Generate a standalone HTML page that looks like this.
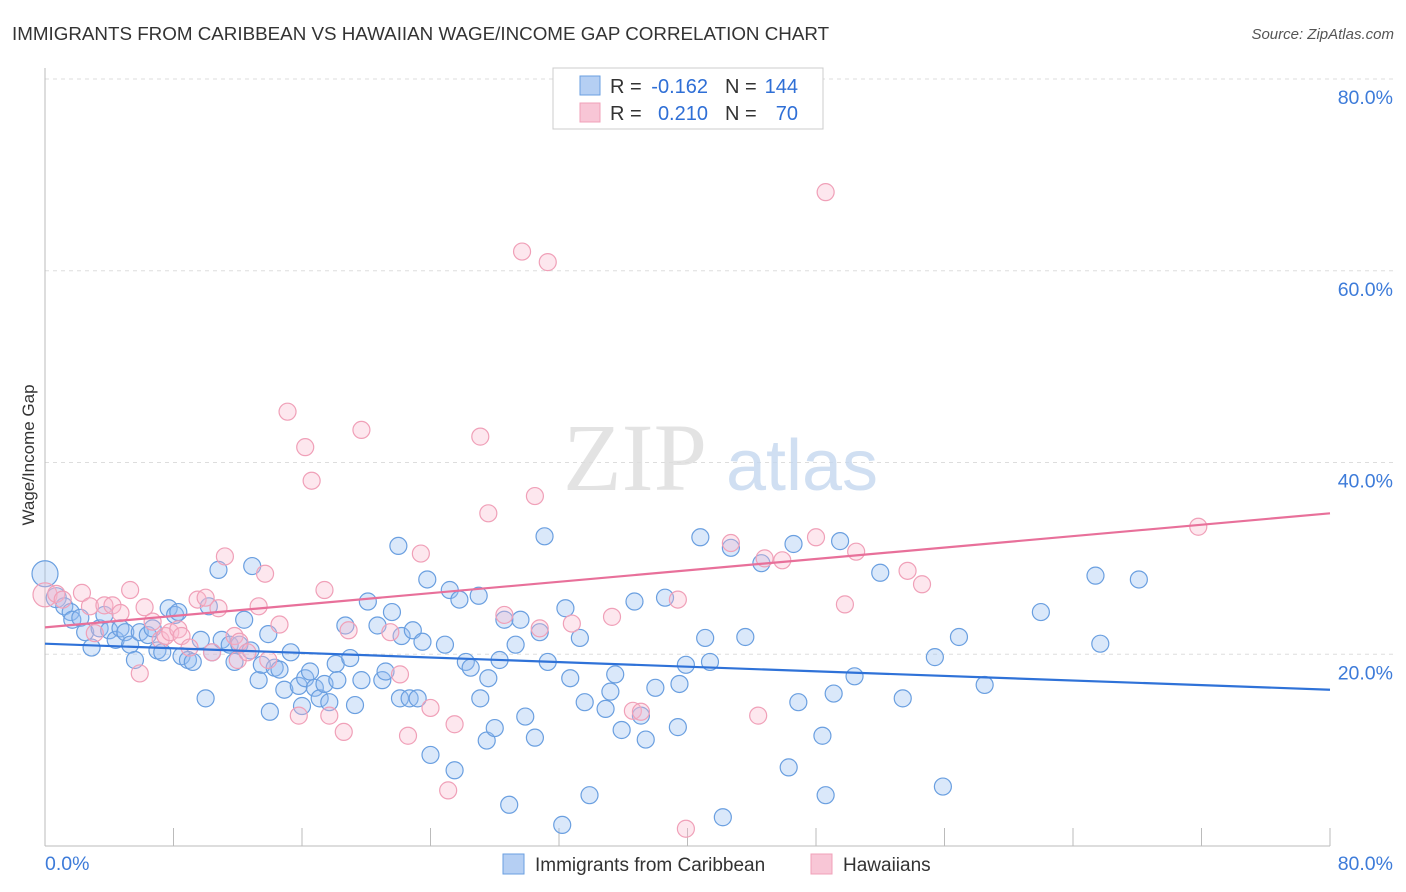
<!DOCTYPE html>
<html><head><meta charset="utf-8"><style>
body{margin:0;background:#fff;font-family:"Liberation Sans",sans-serif;}
svg{display:block}
</style></head><body>
<svg width="1406" height="892" xmlns="http://www.w3.org/2000/svg">
<text x="12" y="40" font-size="18.8" fill="#333">IMMIGRANTS FROM CARIBBEAN VS HAWAIIAN WAGE/INCOME GAP CORRELATION CHART</text>
<text x="1394" y="39" font-size="15" fill="#555" font-style="italic" text-anchor="end">Source: ZipAtlas.com</text>
<g id="grid"></g>
<g><text x="635" y="490" font-size="96" font-family="Liberation Serif,serif" fill="#ddd" text-anchor="middle" opacity="0.8">ZIP</text><text x="802" y="490" font-size="72" fill="#c5d8ef" text-anchor="middle" opacity="0.8">atlas</text></g>
<g id="pts"></g>
<g id="trend"></g>
<text transform="translate(34,455) rotate(-90)" font-size="17" fill="#333" text-anchor="middle">Wage/Income Gap</text>
<g font-size="20">
<rect x="553" y="68" width="270" height="61" fill="#fff" stroke="#ccc"/>
<rect x="580" y="76" width="20" height="19" fill="#b5cff3" stroke="#6a9fe0"/>
<rect x="580" y="103" width="20" height="19" fill="#f8c6d6" stroke="#f0a0b8"/>
<text x="610" y="93" fill="#333">R =</text>
<text x="708" y="93" fill="#2f6fd6" text-anchor="end">-0.162</text>
<text x="725" y="93" fill="#333">N =</text>
<text x="798" y="93" fill="#2f6fd6" text-anchor="end">144</text>
<text x="610" y="120" fill="#333">R =</text>
<text x="708" y="120" fill="#2f6fd6" text-anchor="end">0.210</text>
<text x="725" y="120" fill="#333">N =</text>
<text x="798" y="120" fill="#2f6fd6" text-anchor="end">70</text>
</g>
<g>
<rect x="503" y="854" width="21" height="20" fill="#b5cff3" stroke="#6a9fe0"/>
<text x="535" y="871" font-size="19" fill="#333">Immigrants from Caribbean</text>
<rect x="811" y="854" width="21" height="20" fill="#f8c6d6" stroke="#f0a0b8"/>
<text x="843" y="871" font-size="19" fill="#333">Hawaiians</text>
</g>
</svg>
<script>
const blueX=[0,0.7,1.2,1.6,1.7,2.2,2.5,2.9,3.4,3.7,4.0,4.4,4.7,5.0,5.3,5.6,5.9,6.4,6.7,7.0,7.3,7.7,8.1,8.3,8.5,8.9,9.2,9.7,10.0,10.2,10.4,10.8,11.0,11.5,11.8,12.1,12.4,12.8,12.9,13.3,13.5,13.9,14.0,14.3,14.6,14.9,15.3,15.8,16.0,16.2,16.5,16.8,17.1,17.4,17.7,18.1,18.2,18.7,19.0,19.3,19.7,20.1,20.7,21.0,21.2,21.6,22.0,22.1,22.2,22.7,22.9,23.2,23.5,23.8,24.0,24.9,25.2,25.5,25.8,26.2,26.5,27.0,27.1,27.5,27.6,28.0,28.3,28.6,28.9,29.3,29.6,29.9,30.5,30.8,31.1,31.3,32.2,32.4,32.7,33.3,33.6,33.9,34.9,35.2,35.5,35.9,36.7,37.1,37.4,38.0,38.6,39.4,39.5,39.9,40.8,41.1,41.4,42.2,42.7,43.6,44.6,46.3,46.6,46.9,48.4,48.6,49.1,49.5,50.4,52.0,53.4,55.4,55.9,56.9,58.5,62.0,65.4,65.7,68.1];
const blueY=[28.4,25.9,25.0,24.4,23.6,23.8,22.3,20.7,22.7,24.1,22.5,21.5,22.7,22.3,21.0,19.4,22.3,22.0,22.7,20.4,20.2,24.8,24.1,24.4,19.8,19.4,19.2,21.5,15.4,25.0,20.2,28.8,21.5,21.0,19.2,21.0,23.6,20.4,29.2,17.3,18.9,22.1,14.0,18.6,18.4,16.3,20.2,16.7,14.6,17.5,18.2,16.5,15.4,16.9,15.0,19.0,17.3,23.0,19.6,14.7,17.3,25.5,23.0,17.3,18.2,24.4,31.3,15.4,21.9,15.4,22.5,15.4,21.3,27.8,9.5,21.0,26.7,7.9,25.7,19.2,18.6,26.1,15.4,11.0,17.5,12.3,19.4,23.6,4.3,21.0,23.6,13.5,11.3,22.3,32.3,19.2,2.2,24.8,17.5,21.7,15.0,5.3,14.3,16.1,17.9,12.1,25.5,13.6,11.1,16.5,25.9,12.4,16.9,18.9,32.2,21.7,19.2,3.0,31.1,21.8,29.5,8.2,31.5,15.0,11.5,5.3,15.9,31.8,17.7,28.5,15.4,19.7,6.2,21.8,16.8,24.4,28.2,21.1,27.8];
const pinkX=[0,0.7,1.1,2.3,2.8,3.1,3.7,4.2,4.7,5.3,5.9,6.2,6.7,7.2,7.5,7.8,8.3,8.5,9.0,9.5,10.0,10.4,10.8,11.2,11.8,12.0,12.1,12.6,13.3,13.7,13.9,14.6,15.1,15.8,16.2,16.6,17.4,17.7,18.6,18.9,19.7,21.5,22.1,22.6,23.4,24.0,25.1,25.5,27.1,27.6,28.6,29.7,30.5,30.8,31.3,32.8,35.3,36.6,37.1,39.4,39.9,42.7,44.4,44.8,45.9,48.0,48.6,49.8,50.5,53.7,54.6,71.8];
const pinkY=[26.2,26.3,25.7,26.4,25.0,22.2,25.1,25.1,24.3,26.7,18.0,24.9,23.4,21.5,21.9,22.3,22.6,21.9,20.7,25.7,25.9,20.2,24.8,30.2,21.9,19.4,21.3,20.2,25.0,28.4,19.4,23.1,45.3,13.6,41.6,38.1,26.7,13.6,11.9,22.5,43.4,22.3,17.9,11.5,30.5,14.4,5.8,12.7,42.7,34.7,24.1,62.0,36.5,22.7,60.9,23.2,23.9,14.1,14.0,25.7,1.8,31.6,13.6,30.0,29.8,32.2,68.2,25.2,30.7,28.7,27.3,33.3];
const blueTrend=[21.1,16.3];
const pinkTrend=[22.8,34.7];
const yTicks=[20,40,60,80];
const xTicks=[0,8,16,24,32,40,48,56,64,72,80];
const NS="http://www.w3.org/2000/svg";
const X0=45,X1=1330,Y0=846,Y1=79;
const sx=v=>X0+(v/80)*(X1-X0);
const sy=v=>Y0-(v/80)*(Y0-Y1);
function mk(t,a,p){const e=document.createElementNS(NS,t);for(const k in a)e.setAttribute(k,a[k]);p.appendChild(e);return e;}
const grid=document.getElementById('grid');
yTicks.forEach(t=>{
 const l=mk('line',{x1:X0,x2:1393,y1:sy(t),y2:sy(t),stroke:'#ddd','stroke-dasharray':'4,4'},grid);
 
 
 const tx=mk('text',{x:1393,y:sy(t)+25,'font-size':19.5,fill:'#3d7bd9','text-anchor':'end'},grid);
 tx.textContent=t.toFixed(1)+'%';
 
 
});
const ax=mk('line',{x1:X0,x2:X1,y1:Y0,y2:Y0,stroke:'#bbb'},grid);


const ay=mk('line',{x1:X0,x2:X0,y1:68,y2:Y0,stroke:'#bbb'},grid);


xTicks.forEach(t=>{
 const l=mk('line',{x1:sx(t),x2:sx(t),y1:Y0,y2:Y0-18,stroke:'#bbb'},grid);
 
 
});
[[0,'start',45],[80,'end',1393]].forEach(([v,a,x])=>{
 const tx=mk('text',{x:x,y:870,'font-size':19.5,fill:'#3d7bd9','text-anchor':a},grid);
 tx.textContent=v.toFixed(1)+'%';
 
 
});
const pts=document.getElementById('pts');
blueX.forEach((v,i)=>{
 const c=mk('circle',{cx:sx(v),cy:sy(blueY[i]),r:i<2?(i==0?13:10):8.5,fill:'rgba(150,190,240,0.35)',stroke:'#6a9fe0','stroke-width':1.2},pts);
 
 
});
pinkX.forEach((v,i)=>{
 const c=mk('circle',{cx:sx(v),cy:sy(pinkY[i]),r:i==0?12:8.5,fill:'rgba(248,185,205,0.35)',stroke:'#f0a0b8','stroke-width':1.2},pts);
 
 
});
const tr=document.getElementById('trend');
const bl=mk('line',{x1:sx(0),y1:sy(blueTrend[0]),x2:sx(80),y2:sy(blueTrend[1]),stroke:'#2f72d8','stroke-width':2.2},tr);


const pl=mk('line',{x1:sx(0),y1:sy(pinkTrend[0]),x2:sx(80),y2:sy(pinkTrend[1]),stroke:'#e8709a','stroke-width':2.2},tr);


</script>
</body></html>
